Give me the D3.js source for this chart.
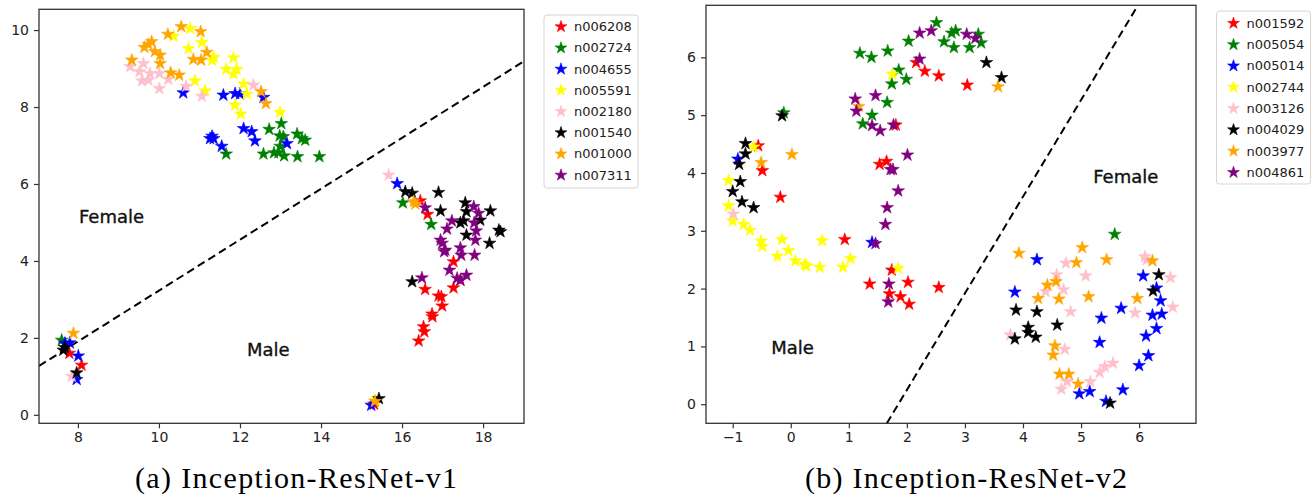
<!DOCTYPE html>
<html>
<head>
<meta charset="utf-8">
<script src="https://cdn.jsdelivr.net/npm/d3@7"></script>
<style>
  html, body { margin: 0; padding: 0; background: #fff; }
  svg { display: block; }
  .tick text { font-family: "DejaVu Sans", sans-serif; fill: #222; }
</style>
</head>
<body>
<svg id="fig" width="1316" height="500"></svg>
<script>
// ---------- shared ----------
const seriesColors = ["#ff0000", "#008000", "#0000ff", "#ffff00", "#ffc0cb", "#000000", "#ffa500", "#800080"];

// ---------- (a) Inception-ResNet-v1 ----------
const v1Labels = ["n006208", "n002724", "n004655", "n005591", "n002180", "n001540", "n001000", "n007311"];
const v1XTicks = [8, 10, 12, 14, 16, 18];
const v1YTicks = [0, 2, 4, 6, 8, 10];

const v1_n006208 = [[7.79,1.60],[8.09,1.29],[15.31,0.28],[16.45,5.56],[16.63,5.21],[17.27,3.98],[17.27,3.30],[16.57,3.26],[16.90,3.09],[16.97,3.07],[16.99,2.83],[16.74,2.62],[16.75,2.55],[16.53,2.29],[16.55,2.16],[16.41,1.92],[17.44,3.50]];
const v1_n002724 = [[7.60,1.94],[16.02,5.51],[16.72,4.95],[12.72,7.42],[13.02,7.57],[12.98,7.25],[13.07,7.23],[13.41,7.30],[13.53,7.18],[13.61,7.14],[12.99,6.98],[12.95,6.81],[13.09,6.73],[12.84,6.81],[12.58,6.78],[11.66,6.78],[13.42,6.71],[13.96,6.71]];
const v1_n004655 = [[7.80,1.87],[7.68,1.86],[8.01,1.53],[7.97,0.92],[15.24,0.25],[15.88,6.01],[10.60,8.37],[11.59,8.31],[11.88,8.35],[12.00,8.34],[12.58,8.25],[12.09,7.44],[12.29,7.36],[12.37,7.12],[11.31,7.24],[11.35,7.18],[11.26,7.18],[11.55,6.98],[13.16,7.05]];
const v1_n005591 = [[10.77,10.04],[10.36,9.84],[11.06,9.68],[10.73,9.52],[11.35,9.29],[11.31,9.22],[11.84,9.28],[11.66,8.98],[11.92,8.98],[11.84,8.86],[10.89,8.68],[12.09,8.60],[11.14,8.42],[12.17,8.34],[11.88,8.05],[12.02,7.82],[12.99,7.86],[15.35,0.38]];
const v1_n002180 = [[9.29,9.05],[9.62,9.13],[9.52,8.92],[9.78,8.87],[9.74,8.70],[9.58,8.68],[10.01,8.87],[10.23,8.72],[10.01,8.48],[10.67,8.54],[11.06,8.28],[12.33,8.57],[15.67,6.23],[7.85,1.00]];
const v1_n001540 = [[7.68,1.75],[7.64,1.68],[7.97,1.09],[15.43,0.42],[16.08,5.80],[16.25,5.76],[16.90,5.78],[16.95,5.30],[17.56,5.51],[17.59,5.28],[18.18,5.30],[17.93,5.06],[17.44,4.99],[17.52,5.04],[17.59,4.67],[18.39,4.80],[18.43,4.76],[18.16,4.46],[16.25,3.46]];
const v1_n001000 = [[10.55,10.09],[10.22,9.89],[11.03,9.96],[11.18,9.42],[10.85,9.24],[11.04,9.22],[9.82,9.70],[9.74,9.63],[9.64,9.55],[9.90,9.44],[10.03,9.35],[9.33,9.22],[10.03,9.13],[10.29,8.89],[10.50,8.83],[12.52,8.40],[12.64,8.09],[7.89,2.12],[15.33,0.35],[16.29,5.54],[16.33,5.48]];
const v1_n007311 = [[16.57,5.38],[17.77,5.41],[17.89,5.24],[17.23,5.04],[17.78,4.99],[17.11,4.83],[17.83,4.78],[17.81,4.54],[16.95,4.54],[16.99,4.46],[17.07,4.28],[17.04,4.24],[17.44,4.34],[17.46,4.15],[17.79,4.15],[17.17,3.76],[17.36,3.55],[17.44,3.50],[17.59,3.63],[16.49,3.56]];
const v1Series = [v1_n006208, v1_n002724, v1_n004655, v1_n005591, v1_n002180, v1_n001540, v1_n001000, v1_n007311];
const v1Boundary = [[7.04, 1.27], [19.01, 9.19]];
const v1Regions = [["Female", 8.83, 5.15], ["Male", 12.70, 1.71]];

// ---------- (b) Inception-ResNet-v2 ----------
const v2Labels = ["n001592", "n005054", "n005014", "n002744", "n003126", "n004029", "n003977", "n004861"];
const v2XTicks = [-1, 0, 1, 2, 3, 4, 5, 6];
const v2YTicks = [0, 1, 2, 3, 4, 5, 6];

const v2_n001592 = [[2.16,5.91],[2.31,5.76],[2.55,5.68],[3.04,5.52],[1.81,4.83],[-0.56,4.47],[1.53,4.15],[1.65,4.20],[-0.49,4.04],[-0.18,3.58],[0.93,2.85],[1.36,2.08],[1.74,2.32],[2.02,2.11],[1.70,1.91],[1.89,1.86],[2.04,1.73],[2.55,2.02]];
const v2_n005054 = [[2.51,6.60],[1.19,6.07],[1.39,6.00],[1.67,6.11],[2.03,6.28],[2.64,6.27],[2.77,6.42],[2.84,6.46],[2.81,6.17],[3.08,6.17],[3.23,6.40],[3.28,6.25],[1.86,5.78],[1.74,5.54],[1.99,5.62],[1.66,5.22],[1.40,5.00],[1.24,4.85],[-0.12,5.04],[5.58,2.94]];
const v2_n005014 = [[-0.91,4.24],[1.40,2.80],[4.24,2.50],[3.86,1.94],[6.07,2.22],[6.30,2.01],[6.37,1.79],[6.23,1.54],[6.39,1.56],[5.69,1.66],[5.35,1.49],[6.30,1.31],[6.12,1.18],[5.32,1.07],[6.16,0.84],[6.00,0.67],[5.72,0.25],[5.15,0.22],[4.97,0.18],[5.43,0.05]];
const v2_n002744 = [[1.75,5.71],[-0.64,4.45],[-1.07,3.87],[-1.07,3.43],[-1.00,3.17],[-0.81,3.11],[-0.70,3.01],[-0.51,2.82],[-0.49,2.73],[-0.15,2.85],[-0.23,2.56],[-0.04,2.66],[0.08,2.48],[0.24,2.42],[0.27,2.39],[0.50,2.37],[0.54,2.83],[0.90,2.37],[1.03,2.52],[1.85,2.35]];
const v2_n003126 = [[-0.99,3.29],[4.74,2.44],[4.58,2.24],[4.39,1.95],[4.70,1.98],[5.08,2.22],[4.82,1.60],[6.10,2.55],[6.13,2.50],[6.54,2.19],[6.58,1.68],[5.93,1.58],[3.78,1.20],[4.72,0.95],[5.55,0.71],[5.41,0.65],[5.32,0.55],[5.16,0.39],[4.76,0.39],[4.66,0.26]];
const v2_n004029 = [[3.37,5.91],[3.63,5.65],[-0.15,4.99],[-0.78,4.51],[-0.78,4.33],[-0.89,4.15],[-0.87,3.85],[-1.00,3.68],[-0.84,3.50],[-0.64,3.40],[6.34,2.24],[6.24,1.96],[3.88,1.63],[4.24,1.60],[4.59,1.37],[4.09,1.33],[4.09,1.24],[3.86,1.13],[4.22,1.16],[5.50,0.02]];
const v2_n003977 = [[3.57,5.49],[1.17,5.15],[0.02,4.32],[-0.51,4.18],[3.93,2.61],[5.02,2.71],[4.92,2.45],[5.44,2.50],[6.23,2.48],[4.42,2.06],[4.57,2.12],[4.26,1.83],[4.62,1.82],[5.13,1.86],[5.97,1.83],[4.55,1.01],[4.52,0.85],[4.63,0.52],[4.79,0.52],[4.95,0.35]];
const v2_n004861 = [[2.22,6.42],[2.42,6.46],[3.03,6.40],[3.18,6.33],[2.22,5.97],[1.11,5.28],[1.46,5.34],[1.13,5.07],[1.40,4.82],[1.54,4.73],[1.77,4.83],[2.01,4.31],[1.72,4.06],[1.76,4.06],[1.85,3.69],[1.66,3.40],[1.63,3.11],[1.46,2.78],[1.69,2.08],[1.68,1.77]];
const v2Series = [v2_n001592, v2_n005054, v2_n005014, v2_n002744, v2_n003126, v2_n004029, v2_n003977, v2_n004861];
const v2Boundary = [[1.655, -0.33], [5.98, 6.90]];
const v2Regions = [["Female", 5.77, 3.94], ["Male", 0.03, 0.98]];

const svg = d3.select("#fig");
const star = d3.symbol().type(d3.symbolStar);

function panel(cfg) {
  const x = d3.scaleLinear().domain(cfg.xDomain).range([cfg.left, cfg.right]);
  const y = d3.scaleLinear().domain(cfg.yDomain).range([cfg.bottom, cfg.top]);
  const g = svg.append("g");

  const clipId = "clip-" + cfg.id;
  g.append("clipPath").attr("id", clipId)
    .append("rect").attr("x", cfg.left).attr("y", cfg.top)
    .attr("width", cfg.right - cfg.left).attr("height", cfg.bottom - cfg.top);

  // axes
  const xAxis = d3.axisBottom(x).tickValues(cfg.xTicks).tickSize(5).tickPadding(4)
    .tickFormat(d3.format("d"));
  const yAxis = d3.axisLeft(y).tickValues(cfg.yTicks).tickSize(5).tickPadding(5)
    .tickFormat(d3.format("d"));
  const gx = g.append("g").attr("transform", `translate(0,${cfg.bottom})`).call(xAxis);
  const gy = g.append("g").attr("transform", `translate(${cfg.left},0)`).call(yAxis);
  [gx, gy].forEach(a => {
    a.select(".domain").remove();
    a.selectAll(".tick line").attr("stroke", "#333").attr("stroke-width", 1.2);
    a.selectAll(".tick text").attr("font-size", 14);
  });

  const plot = g.append("g").attr("clip-path", `url(#${clipId})`);

  // separating line
  plot.append("line")
    .attr("x1", x(cfg.boundary[0][0])).attr("y1", y(cfg.boundary[0][1]))
    .attr("x2", x(cfg.boundary[1][0])).attr("y2", y(cfg.boundary[1][1]))
    .attr("stroke", "#000").attr("stroke-width", 2)
    .attr("stroke-dasharray", "8,4.5");

  // embeddings, one star per sample
  cfg.series.forEach((pts, i) => {
    plot.append("g").selectAll("path").data(pts).join("path")
      .attr("d", star.size(50)())
      .attr("transform", d => `translate(${x(d[0])},${y(d[1])})`)
      .attr("fill", cfg.colors[i])
      .attr("stroke", cfg.colors[i]).attr("stroke-width", 0.6)
      .attr("stroke-linejoin", "round");
  });

  // region names
  cfg.regions.forEach(r => {
    g.append("text").attr("x", x(r[1])).attr("y", y(r[2]))
      .attr("text-anchor", "middle").attr("dominant-baseline", "central")
      .attr("font-family", "DejaVu Sans, sans-serif").attr("font-size", 18)
      .attr("fill", "#111").attr("stroke", "#111").attr("stroke-width", 0.35)
      .text(r[0]);
  });

  // frame
  g.append("rect").attr("x", cfg.left).attr("y", cfg.top)
    .attr("width", cfg.right - cfg.left).attr("height", cfg.bottom - cfg.top)
    .attr("fill", "none").attr("stroke", "#333").attr("stroke-width", 1.3);

  // legend
  const L = cfg.legend;
  const lg = g.append("g");
  lg.append("rect").attr("x", L.x).attr("y", L.y).attr("width", L.w).attr("height", L.h)
    .attr("rx", 3).attr("fill", "#fff").attr("stroke", "#d5d5d5").attr("stroke-width", 1);
  cfg.labels.forEach((lab, i) => {
    const cy = L.firstRow + i * L.step;
    lg.append("path").attr("d", star.size(44)())
      .attr("transform", `translate(${L.x + 17},${cy})`)
      .attr("fill", cfg.colors[i]).attr("stroke", cfg.colors[i]).attr("stroke-width", 0.6);
    lg.append("text").attr("x", L.x + 30).attr("y", cy)
      .attr("dominant-baseline", "central")
      .attr("font-family", "DejaVu Sans, sans-serif").attr("font-size", 13)
      .attr("fill", "#222").text(lab);
  });

  // caption
  svg.append("text").attr("x", cfg.caption.x).attr("y", 488)
    .attr("text-anchor", "middle")
    .attr("font-family", "Liberation Serif, serif").attr("font-size", 30)
    .attr("textLength", 322).attr("lengthAdjust", "spacing")
    .attr("fill", "#000").text(cfg.caption.text);
}

panel({
  id: "v1", left: 39, right: 524, top: 9.3, bottom: 423.3,
  xDomain: [7.04, 19.01], yDomain: [-0.22, 10.54],
  xTicks: v1XTicks, yTicks: v1YTicks,
  series: v1Series, labels: v1Labels, colors: seriesColors,
  boundary: v1Boundary, regions: v1Regions,
  legend: { x: 544, y: 15, w: 94, h: 173, firstRow: 26.7, step: 21.2 },
  caption: { x: 296, text: "(a) Inception-ResNet-v1" }
});

panel({
  id: "v2", left: 706, right: 1196, top: 5.3, bottom: 423.3,
  xDomain: [-1.46, 6.98], yDomain: [-0.33, 6.9],
  xTicks: v2XTicks, yTicks: v2YTicks,
  series: v2Series, labels: v2Labels, colors: seriesColors,
  boundary: v2Boundary, regions: v2Regions,
  legend: { x: 1216.5, y: 11, w: 94, h: 173, firstRow: 23.3, step: 21.3 },
  caption: { x: 966, text: "(b) Inception-ResNet-v2" }
});
</script>
</body>
</html>
